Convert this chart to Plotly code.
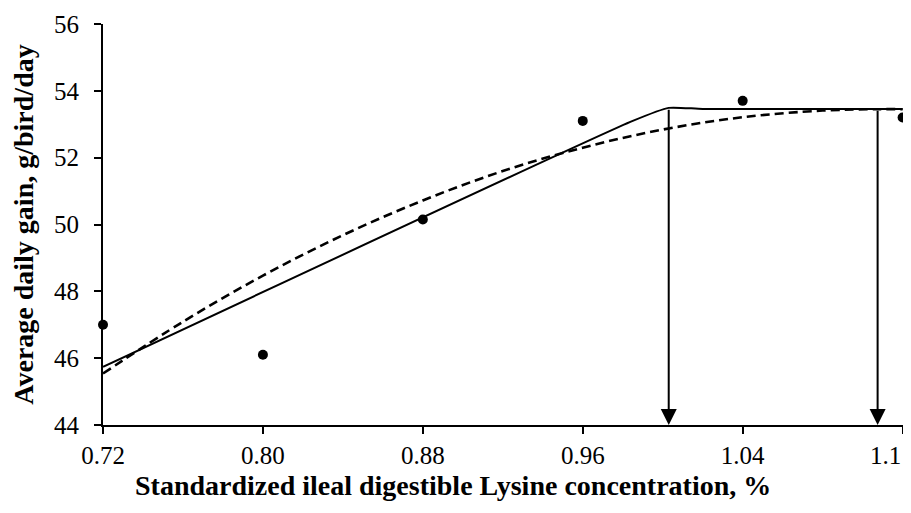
import plotly.graph_objects as go

# Observed data
lys = [0.72, 0.80, 0.88, 0.96, 1.04, 1.12]
adg = [47.0, 46.1, 50.15, 53.1, 53.7, 53.2]

# Broken-line (linear plateau) fit
bl_x = [0.72, 0.985, 1.003, 1.02, 1.12]
bl_y = [45.74, 53.10, 53.49, 53.46, 53.46]

# Quadratic plateau fit
qp_x = [0.72, 0.76, 0.80, 0.84, 0.88, 0.92, 0.96, 1.00, 1.04, 1.08, 1.1075, 1.12]
qp_y = [45.54, 47.09, 48.47, 49.68, 50.72, 51.60, 52.30, 52.84, 53.21, 53.41, 53.45, 53.45]

# Requirement estimates (arrows)
req_x = [1.003, 1.1075]
req_top = [53.48, 53.45]

tick_vals = [0.72, 0.80, 0.88, 0.96, 1.04, 1.12]
tick_text = ["0.72", "0.80", "0.88", "0.96", "1.04", ""]
last_label = "1.1"
y_ticks = [44, 46, 48, 50, 52, 54, 56]

x_title = "<b>Standardized ileal digestible Lysine concentration, %</b>"
y_title = "<b>Average daily gain, g/bird/day</b>"

FONT = "Liberation Serif, Times New Roman, serif"

fig = go.Figure()
fig.add_trace(go.Scatter(x=bl_x, y=bl_y, mode="lines", line_shape="spline",
                         line=dict(color="black", width=2, smoothing=0.5),
                         showlegend=False))
fig.add_trace(go.Scatter(x=qp_x, y=qp_y, mode="lines", line_shape="spline",
                         line=dict(color="black", width=2.6, dash="9px,5px"),
                         showlegend=False))
fig.add_trace(go.Scatter(x=lys, y=adg, mode="markers", cliponaxis=False,
                         marker=dict(color="black", size=10), showlegend=False))

for xv, yt in zip(req_x, req_top):
    fig.add_annotation(x=xv, y=44, ax=xv, ay=yt, xref="x", yref="y",
                       axref="x", ayref="y", showarrow=True, arrowhead=2,
                       arrowsize=1.6, arrowwidth=2, arrowcolor="black", text="")

# last x tick label, pulled inside the figure edge as in the reference
fig.add_annotation(x=tick_vals[-1], y=0, xref="x", yref="paper", text=last_label,
                   showarrow=False, xanchor="right", yanchor="top", xshift=0, yshift=-15,
                   font=dict(size=25, family=FONT, color="black"))

# x-axis title, centred on the whole figure as in the reference
fig.add_annotation(x=0.438, y=-0.152, xref="paper", yref="paper", text=x_title,
                   showarrow=False, xanchor="center", yanchor="middle",
                   font=dict(size=28, family=FONT, color="black"))

# the page body adds an 8 px offset, so the figure is a bit smaller than the window
fig.update_layout(
    width=903, height=497,
    margin=dict(l=95, r=8, t=16, b=80),
    paper_bgcolor="white", plot_bgcolor="white",
    font=dict(family=FONT, color="black", size=25),
)
fig.update_xaxes(range=[0.72, 1.1202], tickvals=tick_vals, ticktext=tick_text,
                 showgrid=False, zeroline=False, showline=True, linecolor="black",
                 linewidth=2, ticks="outside", ticklen=7, tickwidth=2, tickcolor="black",
                 tickfont=dict(size=25), ticklabelstandoff=0, automargin=False)
fig.update_yaxes(range=[44, 56], tickvals=y_ticks,
                 showgrid=False, zeroline=False, showline=True, linecolor="black",
                 linewidth=2, ticks="outside", ticklen=7, tickwidth=2, tickcolor="black",
                 tickfont=dict(size=25), ticklabelstandoff=10, automargin=False,
                 title=dict(text=y_title, font=dict(size=28), standoff=12))

fig.write_html("out.html")
